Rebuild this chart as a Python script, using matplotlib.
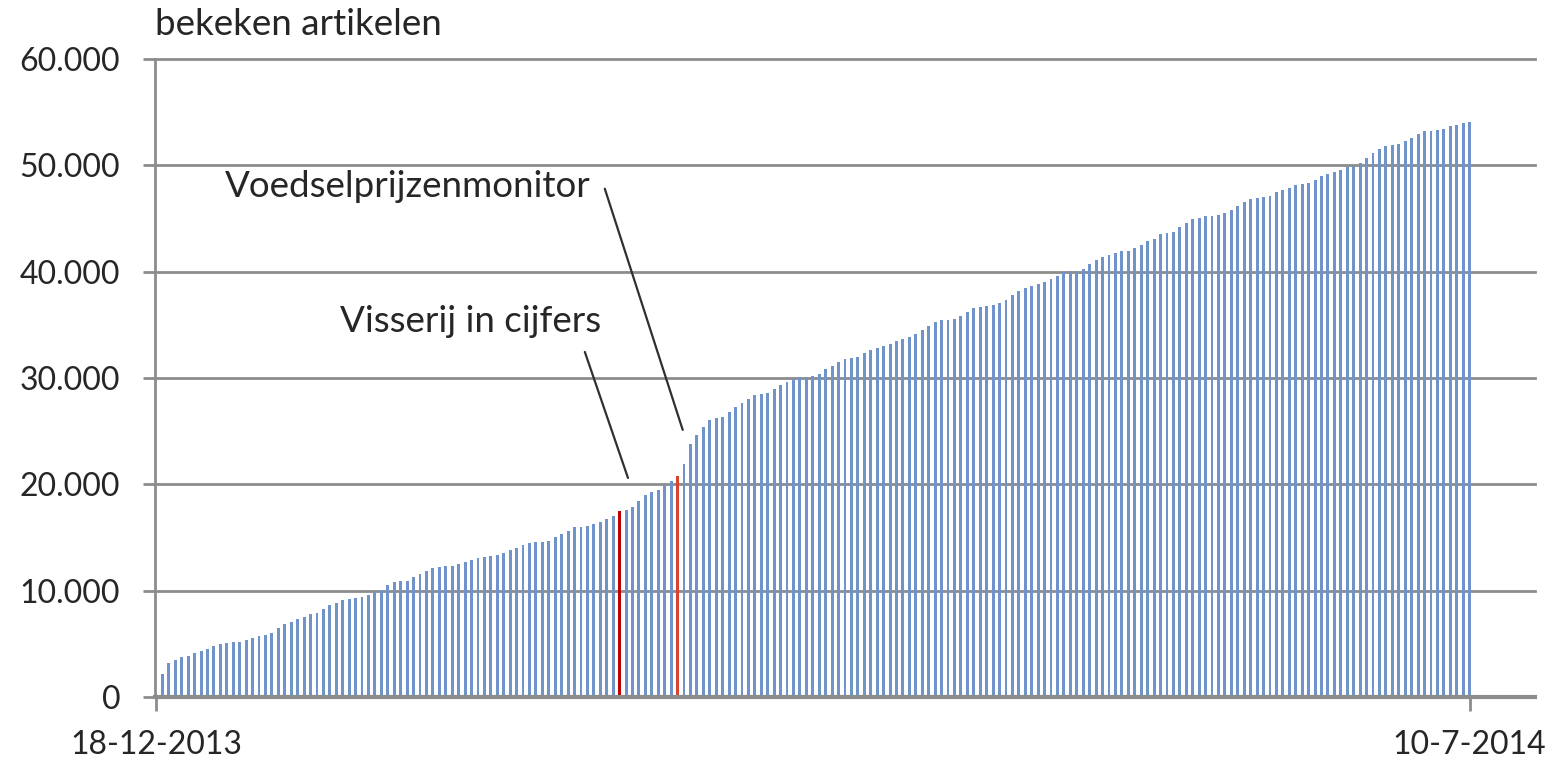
import matplotlib.pyplot as plt
import numpy as np
from matplotlib.ticker import FuncFormatter

plt.rcParams['font.family'] = ['Lato', 'DejaVu Sans']
plt.rcParams['font.size'] = 23

# cumulative number of viewed articles per day, 18-12-2013 .. 10-7-2014
viewed = [
    300, 2160, 3230, 3480, 3730, 3890, 4110, 4360, 4550, 4800,
    4980, 5050, 5140, 5200, 5360, 5550, 5740, 5800, 5990, 6460,
    6830, 7080, 7300, 7550, 7770, 7930, 8240, 8620, 8870, 9090,
    9220, 9340, 9440, 9590, 9970, 10060, 10500, 10810, 10900, 10950,
    11280, 11560, 11810, 12090, 12270, 12340, 12340, 12520, 12710, 12870,
    13080, 13180, 13240, 13330, 13550, 13800, 14050, 14270, 14520, 14550,
    14550, 14700, 15050, 15360, 15640, 15950, 16010, 16070, 16230, 16420,
    16760, 17010, 17480, 17630, 17880, 18410, 18970, 19320, 19500, 19900,
    20310, 20820, 21890, 23770, 24650, 25410, 26040, 26230, 26350, 26820,
    27230, 27670, 28050, 28430, 28490, 28620, 28990, 29340, 29650, 29940,
    30060, 30130, 30190, 30380, 30820, 31130, 31510, 31790, 31920, 32010,
    32330, 32640, 32800, 33000, 33200, 33450, 33640, 33890, 34110, 34510,
    34890, 35300, 35450, 35450, 35580, 35830, 36240, 36550, 36710, 36770,
    36830, 37080, 37340, 37810, 38210, 38500, 38650, 38840, 39060, 39280,
    39590, 40000, 40060, 40060, 40220, 40690, 41100, 41350, 41570, 41790,
    41940, 41940, 42190, 42540, 42880, 43100, 43530, 43660, 43720, 44160,
    44590, 44910, 45090, 45220, 45220, 45310, 45530, 45780, 46160, 46560,
    46810, 46940, 47030, 47090, 47470, 47720, 47910, 48190, 48280, 48340,
    48590, 48970, 49220, 49380, 49590, 49840, 49970, 50220, 50660, 51160,
    51560, 51860, 51940, 52030, 52300, 52600, 52980, 53230, 53230, 53350,
    53450, 53670, 53760, 53980, 54040,
]
first_label = '18-12-2013'
last_label = '10-7-2014'
y_ticks = [0, 10000, 20000, 30000, 40000, 50000, 60000]

# publications that are highlighted (day index)
visserij_day = 72          # 28-2-2014
voedsel_day = 81           # 9-3-2014

blue = '#7094C9'
grey = '#8C8C8C'
txt = '#262626'

x = np.arange(len(viewed))
colors = [blue] * len(viewed)
colors[visserij_day] = '#C00000'
colors[voedsel_day] = '#D8432F'

fig = plt.figure(figsize=(15.58, 7.63), dpi=100)
ax = fig.add_axes([0.0995, 0.0865, 0.8855, 0.8362])

for t in y_ticks[1:]:
    ax.axhline(t, color=grey, lw=2.0, zorder=1, clip_on=False)

ax.bar(x, viewed, width=0.45, color=colors, zorder=2)

ax.set_xlim(-0.15, 214.1)
ax.set_ylim(0, 60000)

ax.spines['top'].set_visible(False)
ax.spines['right'].set_visible(False)
ax.spines['left'].set_color(grey)
ax.spines['left'].set_linewidth(2.0)
ax.spines['bottom'].set_color(grey)
ax.spines['bottom'].set_linewidth(3.0)
ax.spines['bottom'].set_zorder(3)

ax.set_yticks(y_ticks)
ax.yaxis.set_major_formatter(FuncFormatter(lambda v, p: f'{int(v):,}'.replace(',', '.')))
ax.tick_params(axis='y', length=9, width=2, color=grey, pad=16, labelcolor=txt)

ax.set_xticks([0, len(viewed) - 1])
ax.set_xticklabels([first_label, last_label])
ax.tick_params(axis='x', length=10, width=2, color=grey, pad=14, labelcolor=txt)

ax.text(0.0, 1.028, 'bekeken artikelen', transform=ax.transAxes, ha='left', va='bottom',
        color=txt, fontsize=26.5)

ax.text(10.7, 48000, 'Voedselprijzenmonitor', ha='left', va='center', color=txt, fontsize=26.5)
ax.text(28.6, 35300, 'Visserij in cijfers', ha='left', va='center', color=txt, fontsize=26.5)
ax.annotate('', xy=(81.8, 25120), xytext=(69.7, 47800),
            arrowprops=dict(arrowstyle='-', color='#303030', lw=1.6, shrinkA=0, shrinkB=0))
ax.annotate('', xy=(73.3, 20600), xytext=(66.6, 32450),
            arrowprops=dict(arrowstyle='-', color='#303030', lw=1.6, shrinkA=0, shrinkB=0))

fig.savefig('out.png', dpi=100)
